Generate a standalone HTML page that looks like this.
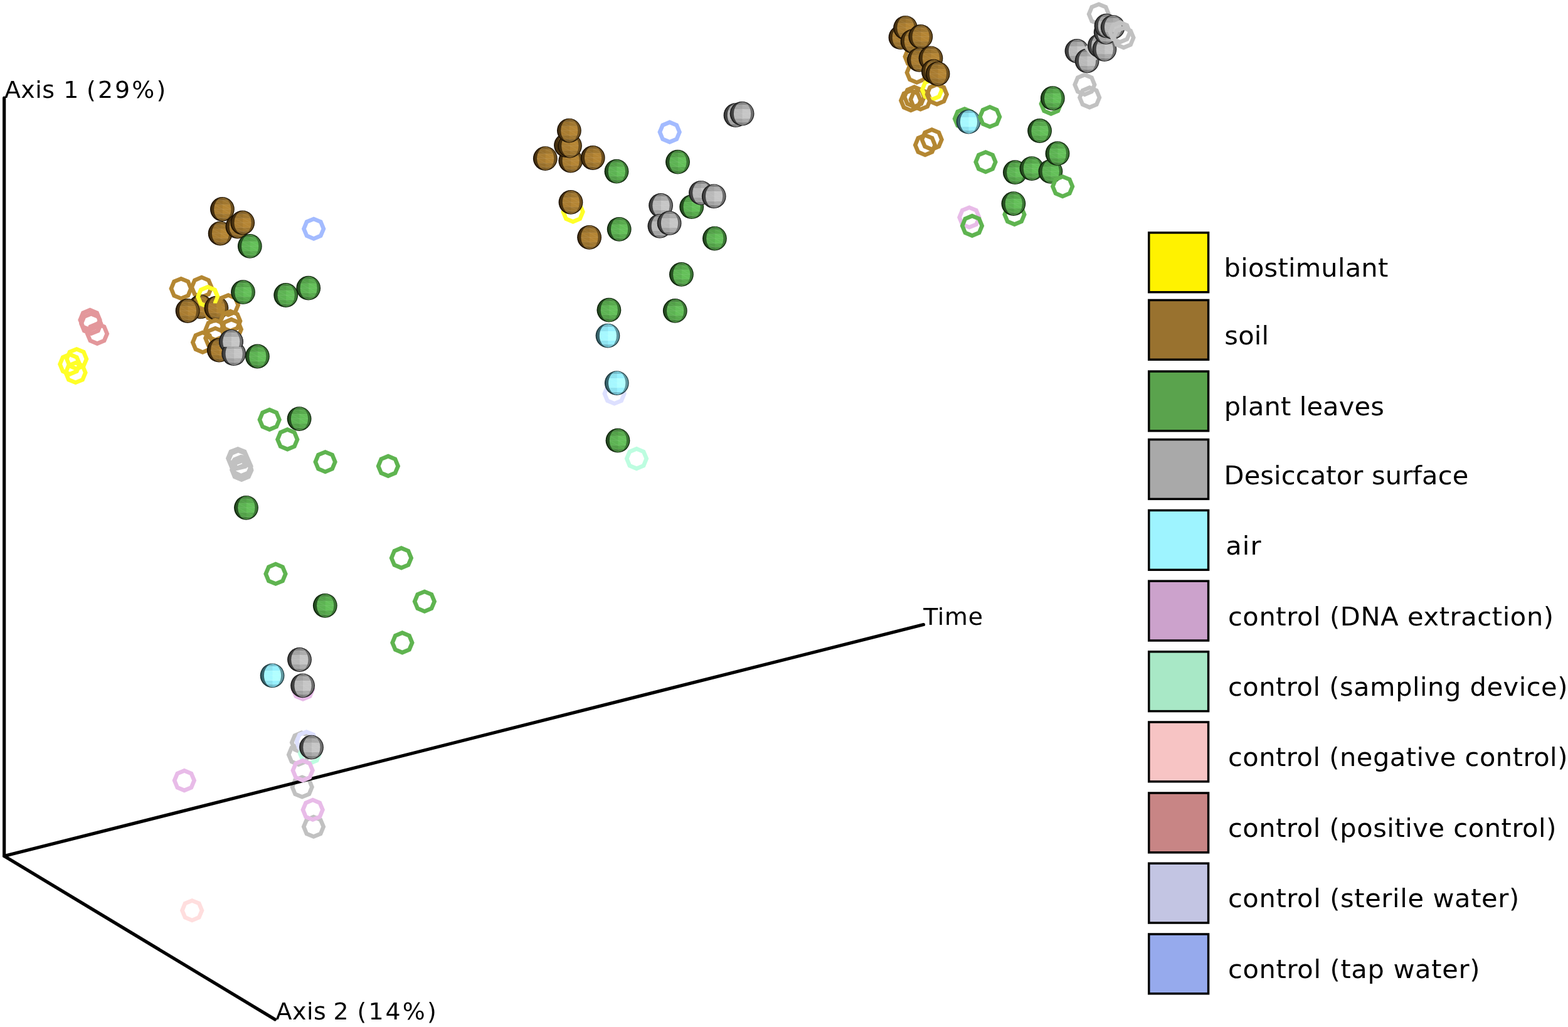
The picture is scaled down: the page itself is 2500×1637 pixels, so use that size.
<!DOCTYPE html>
<html lang="en"><head><meta charset="utf-8"><title>PCoA plot</title>
<style>html,body{margin:0;padding:0;background:#fff}body{width:2500px;height:1637px}svg{display:block}text{font-family:"DejaVu Sans","Liberation Sans",sans-serif;fill:#000}.ax{font-size:37.9px}.lg{font-size:41.6px}</style></head><body>
<svg width="2500" height="1637" viewBox="0 0 2500 1637">
<defs>
<clipPath id="ce"><ellipse cx="0.4" rx="13.58" ry="18.50"/></clipPath>
<g id="fc" clip-path="url(#ce)" stroke="#fff" stroke-opacity="0.16" stroke-width="0.55" fill="none"><path d="M-13.6 -14.43 H14.6"/><path d="M-13.6 -7.40 H14.6"/><path d="M-13.6 7.77 H14.6"/><path d="M-13.6 14.25 H14.6"/><path d="M-13.6 0.00 H14.6"/><path d="M-13.6 -18.50 L0.4 -14.43"/><path d="M0.4 -18.50 L14.2 -14.43"/><path d="M-13.6 -14.43 L0.4 -7.40"/><path d="M0.4 -14.43 L14.2 -7.40"/><path d="M-13.6 -7.40 L0.4 0.00"/><path d="M0.4 -7.40 L14.2 0.00"/><path d="M-13.6 0.00 L0.4 7.77"/><path d="M0.4 0.00 L14.2 7.77"/><path d="M-13.6 7.77 L0.4 14.25"/><path d="M0.4 7.77 L14.2 14.25"/><path d="M-13.6 14.25 L0.4 18.50"/><path d="M0.4 14.25 L14.2 18.50"/></g>
<linearGradient id="gbr" x1="0" y1="0" x2="0" y2="1"><stop offset="0" stop-color="#7a5a24"/><stop offset="0.11" stop-color="#7a5a24"/><stop offset="0.11" stop-color="#98702c"/><stop offset="0.3" stop-color="#98702c"/><stop offset="0.3" stop-color="#a97c31"/><stop offset="0.71" stop-color="#a97c31"/><stop offset="0.71" stop-color="#98702c"/><stop offset="0.885" stop-color="#98702c"/><stop offset="0.885" stop-color="#7a5a24"/><stop offset="1" stop-color="#7a5a24"/></linearGradient>
<linearGradient id="hbr" x1="0" y1="0" x2="0" y2="1"><stop offset="0" stop-color="#815f26"/><stop offset="0.11" stop-color="#815f26"/><stop offset="0.11" stop-color="#a1772f"/><stop offset="0.3" stop-color="#a1772f"/><stop offset="0.3" stop-color="#b58534"/><stop offset="0.71" stop-color="#b58534"/><stop offset="0.71" stop-color="#a1772f"/><stop offset="0.885" stop-color="#a1772f"/><stop offset="0.885" stop-color="#815f26"/><stop offset="1" stop-color="#815f26"/></linearGradient>
<g id="sbr"><circle r="19.4" fill="#1e1203"/><circle cx="0.25" cy="-0.2" r="17.9" fill="#46300f"/><path d="M0.25 -18.1 A17.9 17.9 0 0 1 0.25 17.8 Z" fill="#6b4e1f"/><path d="M0.4 -18.50 A13.58 18.50 0 0 0 0.4 18.50 L1.4 18.50 L1.4 -18.50 Z" fill="url(#gbr)"/><path d="M0.4 -18.50 A13.58 18.50 0 0 1 0.4 18.50 Z" fill="url(#hbr)"/><use href="#fc"/></g>
<linearGradient id="ggn" x1="0" y1="0" x2="0" y2="1"><stop offset="0" stop-color="#427f3a"/><stop offset="0.11" stop-color="#427f3a"/><stop offset="0.11" stop-color="#52a048"/><stop offset="0.3" stop-color="#52a048"/><stop offset="0.3" stop-color="#5db353"/><stop offset="0.71" stop-color="#5db353"/><stop offset="0.71" stop-color="#52a048"/><stop offset="0.885" stop-color="#52a048"/><stop offset="0.885" stop-color="#427f3a"/><stop offset="1" stop-color="#427f3a"/></linearGradient>
<linearGradient id="hgn" x1="0" y1="0" x2="0" y2="1"><stop offset="0" stop-color="#46873d"/><stop offset="0.11" stop-color="#46873d"/><stop offset="0.11" stop-color="#57aa4c"/><stop offset="0.3" stop-color="#57aa4c"/><stop offset="0.3" stop-color="#64c059"/><stop offset="0.71" stop-color="#64c059"/><stop offset="0.71" stop-color="#57aa4c"/><stop offset="0.885" stop-color="#57aa4c"/><stop offset="0.885" stop-color="#46873d"/><stop offset="1" stop-color="#46873d"/></linearGradient>
<g id="sgn"><circle r="19.4" fill="#0f230c"/><circle cx="0.25" cy="-0.2" r="17.9" fill="#264f21"/><path d="M0.25 -18.1 A17.9 17.9 0 0 1 0.25 17.8 Z" fill="#3a7433"/><path d="M0.4 -18.50 A13.58 18.50 0 0 0 0.4 18.50 L1.4 18.50 L1.4 -18.50 Z" fill="url(#ggn)"/><path d="M0.4 -18.50 A13.58 18.50 0 0 1 0.4 18.50 Z" fill="url(#hgn)"/><use href="#fc"/></g>
<linearGradient id="ggy" x1="0" y1="0" x2="0" y2="1"><stop offset="0" stop-color="#7d7d7d"/><stop offset="0.11" stop-color="#7d7d7d"/><stop offset="0.11" stop-color="#a2a2a2"/><stop offset="0.3" stop-color="#a2a2a2"/><stop offset="0.3" stop-color="#b9b9b9"/><stop offset="0.71" stop-color="#b9b9b9"/><stop offset="0.71" stop-color="#a2a2a2"/><stop offset="0.885" stop-color="#a2a2a2"/><stop offset="0.885" stop-color="#7d7d7d"/><stop offset="1" stop-color="#7d7d7d"/></linearGradient>
<linearGradient id="hgy" x1="0" y1="0" x2="0" y2="1"><stop offset="0" stop-color="#848484"/><stop offset="0.11" stop-color="#848484"/><stop offset="0.11" stop-color="#acacac"/><stop offset="0.3" stop-color="#acacac"/><stop offset="0.3" stop-color="#c6c6c6"/><stop offset="0.71" stop-color="#c6c6c6"/><stop offset="0.71" stop-color="#acacac"/><stop offset="0.885" stop-color="#acacac"/><stop offset="0.885" stop-color="#848484"/><stop offset="1" stop-color="#848484"/></linearGradient>
<g id="sgy"><circle r="19.4" fill="#1e1e1e"/><circle cx="0.25" cy="-0.2" r="17.9" fill="#424242"/><path d="M0.25 -18.1 A17.9 17.9 0 0 1 0.25 17.8 Z" fill="#6e6e6e"/><path d="M0.4 -18.50 A13.58 18.50 0 0 0 0.4 18.50 L1.4 18.50 L1.4 -18.50 Z" fill="url(#ggy)"/><path d="M0.4 -18.50 A13.58 18.50 0 0 1 0.4 18.50 Z" fill="url(#hgy)"/><use href="#fc"/></g>
<linearGradient id="gcy" x1="0" y1="0" x2="0" y2="1"><stop offset="0" stop-color="#6fb9c8"/><stop offset="0.11" stop-color="#6fb9c8"/><stop offset="0.11" stop-color="#8ee3f0"/><stop offset="0.3" stop-color="#8ee3f0"/><stop offset="0.3" stop-color="#a5f8ff"/><stop offset="0.71" stop-color="#a5f8ff"/><stop offset="0.71" stop-color="#8ee3f0"/><stop offset="0.885" stop-color="#8ee3f0"/><stop offset="0.885" stop-color="#6fb9c8"/><stop offset="1" stop-color="#6fb9c8"/></linearGradient>
<linearGradient id="hcy" x1="0" y1="0" x2="0" y2="1"><stop offset="0" stop-color="#76c4d4"/><stop offset="0.11" stop-color="#76c4d4"/><stop offset="0.11" stop-color="#97f1fe"/><stop offset="0.3" stop-color="#97f1fe"/><stop offset="0.3" stop-color="#b1ffff"/><stop offset="0.71" stop-color="#b1ffff"/><stop offset="0.71" stop-color="#97f1fe"/><stop offset="0.885" stop-color="#97f1fe"/><stop offset="0.885" stop-color="#76c4d4"/><stop offset="1" stop-color="#76c4d4"/></linearGradient>
<g id="scy"><circle r="19.4" fill="#1e373c"/><circle cx="0.25" cy="-0.2" r="17.9" fill="#38656e"/><path d="M0.25 -18.1 A17.9 17.9 0 0 1 0.25 17.8 Z" fill="#5f969f"/><path d="M0.4 -18.50 A13.58 18.50 0 0 0 0.4 18.50 L1.4 18.50 L1.4 -18.50 Z" fill="url(#gcy)"/><path d="M0.4 -18.50 A13.58 18.50 0 0 1 0.4 18.50 Z" fill="url(#hcy)"/><use href="#fc"/></g>
<path id="rg" fill-rule="evenodd" d="M19.30 0.00 L13.65 13.65 L0.00 19.30 L-13.65 13.65 L-19.30 0.00 L-13.65 -13.65 L-0.00 -19.30 L13.65 -13.65 Z M8.63 -8.63 L-0.00 -12.20 L-8.63 -8.63 L-12.20 0.00 L-8.63 8.63 L0.00 12.20 L8.63 8.63 L12.20 0.00 Z"/>
</defs>
<rect width="2500" height="1637" fill="#fff"/>
<use href="#rg" fill="#c1c1c1" x="481.7" y="1254.5"/>
<g stroke="#000" stroke-width="5.2" fill="none" stroke-linecap="round" stroke-linejoin="round"><path d="M6.7 156.0 L6.7 1364.5 L1472.5 995.6"/><path d="M6.7 1364.5 L438.5 1625"/></g>
<use href="#sbr" x="354.4" y="333.5"/>
<use href="#sbr" x="351.1" y="372.1"/>
<use href="#sbr" x="378.9" y="361.0"/>
<use href="#sbr" x="386.7" y="355.0"/>
<use href="#sgn" x="398.3" y="392.4"/>
<use href="#rg" fill="#a3bbff" x="500.2" y="364.7"/>
<use href="#rg" fill="#b48732" x="288.7" y="460.0"/>
<use href="#rg" fill="#b48732" x="321.5" y="457.8"/>
<use href="#sbr" x="319.8" y="488.9"/>
<use href="#sbr" x="299.1" y="495.5"/>
<use href="#rg" fill="#ffff28" x="331.3" y="473.1"/>
<use href="#rg" fill="#b48732" x="342.7" y="495.5"/>
<use href="#sbr" x="344.9" y="491.1"/>
<clipPath id="cy1"><rect x="340" y="440" width="30" height="43.5"/></clipPath><g clip-path="url(#cy1)"><use href="#rg" fill="#ffff28" x="331.3" y="473.1"/></g>
<use href="#rg" fill="#b48732" x="364.0" y="486.2"/>
<use href="#rg" fill="#b48732" x="367.3" y="511.8"/>
<use href="#rg" fill="#b48732" x="368.9" y="524.9"/>
<use href="#rg" fill="#b48732" x="343.3" y="526.0"/>
<use href="#rg" fill="#b48732" x="343.3" y="539.0"/>
<use href="#rg" fill="#b48732" x="323.1" y="545.7"/>
<use href="#sbr" x="349.3" y="558.2"/>
<use href="#sgy" x="368.4" y="544.6"/>
<use href="#sgy" x="372.7" y="563.7"/>
<clipPath id="cg1"><rect x="340" y="520" width="60" height="33"/></clipPath><g clip-path="url(#cg1)"><use href="#sgy" x="368.4" y="544.6"/></g>
<use href="#sgn" x="387.5" y="465.7"/>
<use href="#sgn" x="410.4" y="568.0"/>
<use href="#sgn" x="455.7" y="470.5"/>
<use href="#sgn" x="491.7" y="459.2"/>
<use href="#rg" fill="#e3979b" x="155.0" y="531.9"/>
<use href="#rg" fill="#e3979b" x="145.3" y="516.0"/>
<use href="#rg" fill="#e3979b" x="143.5" y="509.9"/>
<use href="#rg" fill="#ffff28" x="122.2" y="572.2"/>
<use href="#rg" fill="#ffff28" x="111.3" y="580.6"/>
<use href="#rg" fill="#ffff28" x="120.5" y="594.0"/>
<use href="#rg" fill="#5fb450" x="429.7" y="668.9"/>
<use href="#sgn" x="477.1" y="667.6"/>
<use href="#rg" fill="#5fb450" x="458.3" y="700.4"/>
<path fill="#c1c1c1" fill-rule="evenodd" d="M379.3 712.0 L392.6 717.2 L403.8 742.9 L403.3 744.9 L404.6 749.8 L398.9 762.5 L385.1 768.3 L371.5 762.5 L366.0 748.9 L366.7 746.9 L359.9 730.4 L365.4 717.2 Z M368.0 733.3 L371.5 725.2 L379.9 721.8 L389.1 725.5 L383.9 724.8 L371.7 729.7 L369.0 734.0 Z M377.8 741.1 L385.9 737.9 L386.3 739.2 L378.6 742.2 Z M375.8 750.4 L392.9 746.5 L394.6 744.6 L395.7 745.6 L393.1 751.2 L384.5 754.7 L380.4 752.8 Z"/>
<use href="#rg" fill="#5fb450" x="518.6" y="736.2"/>
<use href="#rg" fill="#5fb450" x="618.9" y="742.9"/>
<use href="#sgn" x="392.5" y="809.3"/>
<use href="#rg" fill="#5fb450" x="439.5" y="914.8"/>
<use href="#rg" fill="#5fb450" x="639.9" y="889.4"/>
<use href="#rg" fill="#5fb450" x="676.9" y="958.7"/>
<use href="#rg" fill="#5fb450" x="641.4" y="1024.4"/>
<use href="#sgn" x="518.3" y="965.3"/>
<use href="#sgy" x="477.5" y="1051.5"/>
<use href="#scy" x="434.1" y="1076.8"/>
<use href="#rg" fill="#e8bbe8" x="483.0" y="1098.7"/>
<use href="#sgy" x="482.6" y="1092.8"/>
<use href="#rg" fill="#c1c1c1" x="481.0" y="1183.6"/>
<use href="#rg" fill="#c1c1c1" x="476.0" y="1202.9"/>
<use href="#rg" fill="#dde0ff" x="488.6" y="1182.2"/>
<use href="#rg" fill="#bdfde0" x="494.0" y="1201.0"/>
<use href="#sgy" x="496.5" y="1191.1"/>
<use href="#rg" fill="#e8bbe8" x="482.7" y="1228.1"/>
<use href="#rg" fill="#c1c1c1" x="500.0" y="1317.8"/>
<use href="#rg" fill="#e8bbe8" x="498.7" y="1290.8"/>
<use href="#rg" fill="#e8bbe8" x="293.9" y="1244.1"/>
<use href="#rg" fill="#ffdede" x="306.2" y="1451.2"/>
<use href="#sbr" x="909.8" y="256.1"/>
<use href="#sbr" x="902.5" y="231.6"/>
<use href="#sbr" x="908.5" y="232.4"/>
<use href="#sbr" x="907.4" y="208.1"/>
<use href="#sbr" x="869.3" y="252.6"/>
<use href="#sbr" x="945.2" y="251.5"/>
<use href="#rg" fill="#ffff28" x="913.6" y="337.6"/>
<use href="#sbr" x="910.0" y="322.4"/>
<use href="#sbr" x="939.6" y="378.3"/>
<use href="#sgn" x="983.0" y="273.2"/>
<use href="#sgn" x="1080.5" y="258.2"/>
<use href="#sgn" x="987.2" y="365.3"/>
<use href="#sgn" x="1102.7" y="329.7"/>
<use href="#sgn" x="1139.4" y="380.1"/>
<use href="#sgy" x="1173.0" y="183.7"/>
<use href="#sgy" x="1183.1" y="181.2"/>
<use href="#sgy" x="1117.5" y="307.3"/>
<use href="#sgy" x="1138.2" y="312.8"/>
<use href="#sgy" x="1053.6" y="327.5"/>
<use href="#sgy" x="1051.9" y="360.3"/>
<use href="#sgy" x="1067.1" y="355.7"/>
<use href="#rg" fill="#a3bbff" x="1067.7" y="210.6"/>
<use href="#sgn" x="1086.4" y="437.4"/>
<use href="#sgn" x="970.9" y="494.2"/>
<use href="#sgn" x="1076.3" y="495.4"/>
<use href="#scy" x="969.0" y="535.1"/>
<use href="#rg" fill="#dde0ff" x="979.6" y="627.5"/>
<use href="#scy" x="983.3" y="610.6"/>
<use href="#sgn" x="985.0" y="702.2"/>
<use href="#rg" fill="#bdfde0" x="1015.0" y="731.1"/>
<use href="#rg" fill="#b48732" x="1458.6" y="90.3"/>
<use href="#rg" fill="#b48732" x="1461.7" y="115.7"/>
<use href="#rg" fill="#b48732" x="1452.2" y="160.2"/>
<use href="#rg" fill="#b48732" x="1457.8" y="154.4"/>
<use href="#rg" fill="#b48732" x="1467.6" y="158.5"/>
<use href="#rg" fill="#ffff28" x="1486.1" y="142.9"/>
<use href="#rg" fill="#b48732" x="1493.8" y="150.4"/>
<use href="#rg" fill="#b48732" x="1485.7" y="222.4"/>
<use href="#rg" fill="#b48732" x="1475.0" y="231.2"/>
<use href="#sbr" x="1436.0" y="59.7"/>
<use href="#sbr" x="1443.6" y="44.3"/>
<use href="#sbr" x="1455.1" y="65.8"/>
<use href="#sbr" x="1467.8" y="58.5"/>
<use href="#sbr" x="1465.5" y="95.3"/>
<use href="#sbr" x="1484.0" y="92.8"/>
<use href="#sbr" x="1488.4" y="114.0"/>
<use href="#sbr" x="1495.1" y="117.7"/>
<use href="#rg" fill="#5fb450" x="1537.9" y="189.2"/>
<use href="#scy" x="1544.1" y="194.2"/>
<use href="#rg" fill="#5fb450" x="1578.2" y="186.3"/>
<use href="#rg" fill="#5fb450" x="1571.5" y="258.2"/>
<use href="#rg" fill="#5fb450" x="1675.7" y="165.6"/>
<use href="#sgn" x="1678.3" y="156.7"/>
<use href="#sgn" x="1657.6" y="208.5"/>
<use href="#sgn" x="1618.4" y="274.7"/>
<use href="#sgn" x="1645.0" y="268.6"/>
<use href="#sgn" x="1674.9" y="273.3"/>
<use href="#sgn" x="1686.0" y="244.7"/>
<use href="#rg" fill="#5fb450" x="1694.2" y="297.2"/>
<use href="#rg" fill="#5fb450" x="1617.5" y="341.9"/>
<use href="#sgn" x="1615.9" y="324.6"/>
<use href="#rg" fill="#e8bbe8" x="1545.4" y="346.5"/>
<use href="#rg" fill="#5fb450" x="1550.0" y="359.9"/>
<use href="#rg" fill="#c1c1c1" x="1751.9" y="22.5"/>
<use href="#sgy" x="1717.0" y="81.4"/>
<use href="#sgy" x="1733.1" y="97.0"/>
<path fill="#c6c6c6" d="M1728.0 76.0 L1734.0 71.8 L1752.0 92.0 L1746.0 97.2 Z"/>
<use href="#sgy" x="1753.4" y="72.8"/>
<use href="#sgy" x="1760.9" y="78.6"/>
<use href="#sgy" x="1763.2" y="51.4"/>
<use href="#sgy" x="1764.0" y="41.2"/>
<use href="#sgy" x="1774.2" y="43.3"/>
<use href="#rg" fill="#c1c1c1" x="1785.7" y="51.4"/>
<use href="#rg" fill="#c1c1c1" x="1791.5" y="60.1"/>
<use href="#rg" fill="#c1c1c1" x="1729.4" y="134.9"/>
<use href="#rg" fill="#c1c1c1" x="1737.2" y="155.4"/>
<text class="ax"><tspan x="6.90" y="156.1" letter-spacing="0.50">Axis</tspan> <tspan x="101.20" y="156.1" letter-spacing="0.00">1</tspan> <tspan x="138.00" y="156.1" letter-spacing="3.10">(29%)</tspan></text>
<text class="ax"><tspan x="1472.20" y="995.6" letter-spacing="0.70">Time</tspan></text>
<text class="ax"><tspan x="439.60" y="1625.0" letter-spacing="0.50">Axis</tspan> <tspan x="531.40" y="1625.0" letter-spacing="0.00">2</tspan> <tspan x="569.50" y="1625.0" letter-spacing="3.10">(14%)</tspan></text>
<rect x="1831.8" y="370.9" width="94.8" height="94.8" fill="#fff200" stroke="#000" stroke-width="3.5"/>
<text class="lg" x="1951.6" y="440.9" textLength="261.6" lengthAdjust="spacing">biostimulant</text>
<rect x="1831.8" y="478.4" width="94.8" height="94.8" fill="#99722f" stroke="#000" stroke-width="3.5"/>
<text class="lg" x="1952.3" y="548.7" textLength="70.8" lengthAdjust="spacing">soil</text>
<rect x="1831.8" y="592.0" width="94.8" height="94.8" fill="#5aa34d" stroke="#000" stroke-width="3.5"/>
<text class="lg" x="1951.8" y="662.4" textLength="255.0" lengthAdjust="spacing">plant leaves</text>
<rect x="1831.8" y="700.6" width="94.8" height="94.8" fill="#a9a9a9" stroke="#000" stroke-width="3.5"/>
<text class="lg" x="1951.5" y="771.6" textLength="389.8" lengthAdjust="spacing">Desiccator surface</text>
<rect x="1831.8" y="813.5" width="94.8" height="94.8" fill="#9ef4ff" stroke="#000" stroke-width="3.5"/>
<text class="lg" x="1954.2" y="883.9" textLength="56.4" lengthAdjust="spacing">air</text>
<rect x="1831.8" y="926.2" width="94.8" height="94.8" fill="#cca2cc" stroke="#000" stroke-width="3.5"/>
<text class="lg" x="1957.9" y="996.5" textLength="519.2" lengthAdjust="spacing">control (DNA extraction)</text>
<rect x="1831.8" y="1038.8" width="94.8" height="94.8" fill="#a8e8c6" stroke="#000" stroke-width="3.5"/>
<text class="lg" x="1957.9" y="1108.7" textLength="541.5" lengthAdjust="spacing">control (sampling device)</text>
<rect x="1831.8" y="1151.0" width="94.8" height="94.8" fill="#f7c4c4" stroke="#000" stroke-width="3.5"/>
<text class="lg" x="1957.9" y="1220.9" textLength="541.5" lengthAdjust="spacing">control (negative control)</text>
<rect x="1831.8" y="1264.0" width="94.8" height="94.8" fill="#c88585" stroke="#000" stroke-width="3.5"/>
<text class="lg" x="1957.9" y="1334.3" textLength="523.5" lengthAdjust="spacing">control (positive control)</text>
<rect x="1831.8" y="1376.2" width="94.8" height="94.8" fill="#c3c5e3" stroke="#000" stroke-width="3.5"/>
<text class="lg" x="1957.9" y="1445.9" textLength="464.3" lengthAdjust="spacing">control (sterile water)</text>
<rect x="1831.8" y="1489.0" width="94.8" height="94.8" fill="#96aaed" stroke="#000" stroke-width="3.5"/>
<text class="lg" x="1957.9" y="1559.3" textLength="401.5" lengthAdjust="spacing">control (tap water)</text>
</svg></body></html>
